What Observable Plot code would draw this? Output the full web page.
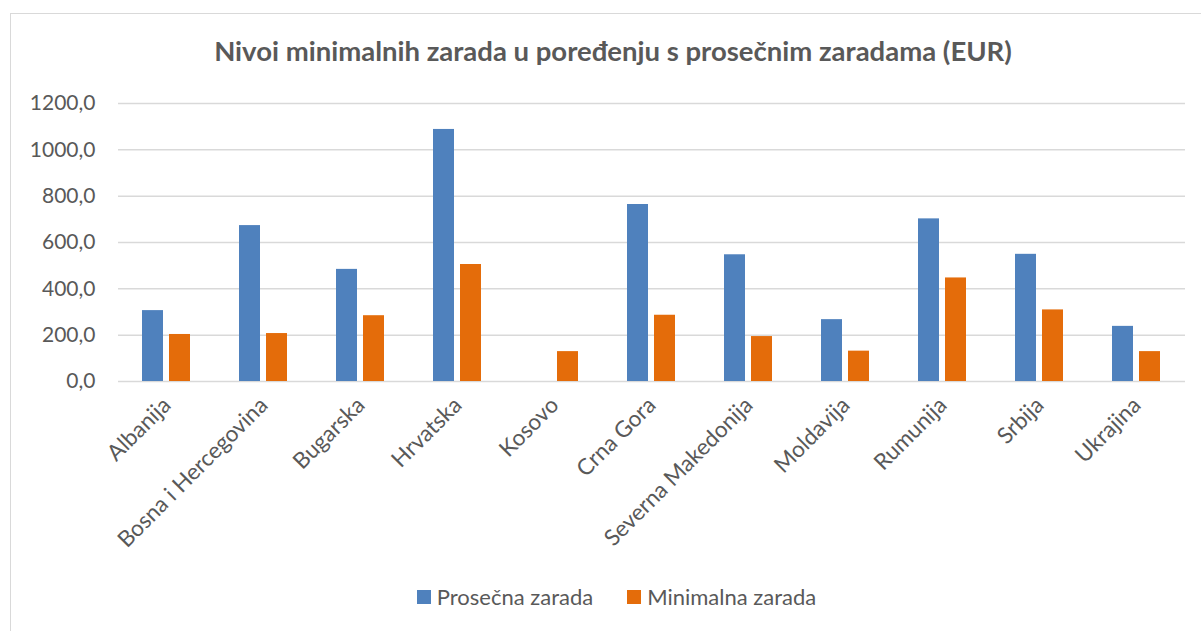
<!DOCTYPE html>
<html>
<head>
<meta charset="utf-8">
<script src="https://cdn.jsdelivr.net/npm/d3@7"></script>
<script src="https://cdn.jsdelivr.net/npm/@observablehq/plot@0.6"></script>
<style>
  html, body { margin: 0; padding: 0; background: #fff; }
  #wrap { position: relative; width: 1201px; height: 631px; overflow: hidden; font-family: Lato, sans-serif; color: #595959; }
  #frame { position: absolute; left: 10px; top: 13px; width: 1300px; height: 800px; border: 1.5px solid #d9d9d9; box-sizing: border-box; }
  #title { position: absolute; left: 0; top: 35px; width: 1226px; text-align: center; font-weight: bold; font-size: 27.5px; line-height: 32px; white-space: nowrap; }
  #chart { position: absolute; left: 0; top: 80px; }
  #legend { position: absolute; left: 0; top: 584px; width: 1233px; display: flex; justify-content: center; align-items: center; font-size: 22px; line-height: 26px; }
  .item { display: flex; align-items: center; }
  .sw { width: 14px; height: 14px; margin-right: 6px; }
</style>
</head>
<body>
<div id="wrap">
  <div id="frame"></div>
  <div id="title"></div>
  <div id="chart"></div>
  <div id="legend"></div>
</div>
<script>
const titleText = "Nivoi minimalnih zarada u poređenju s prosečnim zaradama (EUR)";
const countries = ["Albanija", "Bosna i Hercegovina", "Bugarska", "Hrvatska", "Kosovo", "Crna Gora", "Severna Makedonija", "Moldavija", "Rumunija", "Srbija", "Ukrajina"];
const seriesNames = ["Prosečna zarada", "Minimalna zarada"];
const prosecna = [306, 673, 484, 1088, null, 764, 547, 267, 702, 549, 238];
const minimalna = [203, 207, 284, 505, 129, 286, 194, 131, 447, 309, 129];
const yTicks = [0, 200, 400, 600, 800, 1000, 1200];
const colors = ["#4F81BD", "#E46C0A"];

const data = [];
countries.forEach((c, i) => {
  if (prosecna[i] != null) data.push({country: c, series: seriesNames[0], value: prosecna[i]});
  if (minimalna[i] != null) data.push({country: c, series: seriesNames[1], value: minimalna[i]});
});

document.getElementById("title").textContent = titleText;

const chart = Plot.plot({
  width: 1201,
  height: 491,
  marginLeft: 116,
  marginRight: 14,
  marginTop: 23,
  marginBottom: 190,
  style: {fontFamily: "Lato, sans-serif", fontSize: "21px", color: "#595959", background: "transparent", overflow: "visible"},
  fx: {domain: countries, padding: 0, label: null},
  x: {domain: seriesNames, paddingInner: 0.214, paddingOuter: 0.846, axis: null},
  y: {domain: [0, 1200], label: null},
  color: {domain: seriesNames, range: colors},
  marks: [
    Plot.gridY(yTicks, {stroke: "#d9d9d9", strokeOpacity: 1, strokeWidth: 1.5}),
    Plot.barY(data, {fx: "country", x: "series", y: "value", fill: "series"}),
    Plot.axisY(yTicks, {tickSize: 0, tickPadding: 23, tickFormat: d => d.toFixed(1).replace(".", ","), label: null, fontSize: 21}),
    Plot.axisFx({anchor: "bottom", tickRotate: -45, tickSize: 0, tickPadding: 20, label: null, fontSize: 22.5})
  ]
});
document.getElementById("chart").appendChild(chart);

const legend = document.getElementById("legend");
seriesNames.forEach((s, i) => {
  const item = document.createElement("div");
  item.className = "item";
  if (i > 0) item.style.marginLeft = "34px";
  const sw = document.createElement("div");
  sw.className = "sw";
  sw.style.background = colors[i];
  const t = document.createElement("span");
  t.textContent = s;
  item.appendChild(sw);
  item.appendChild(t);
  legend.appendChild(item);
});
</script>
</body>
</html>
